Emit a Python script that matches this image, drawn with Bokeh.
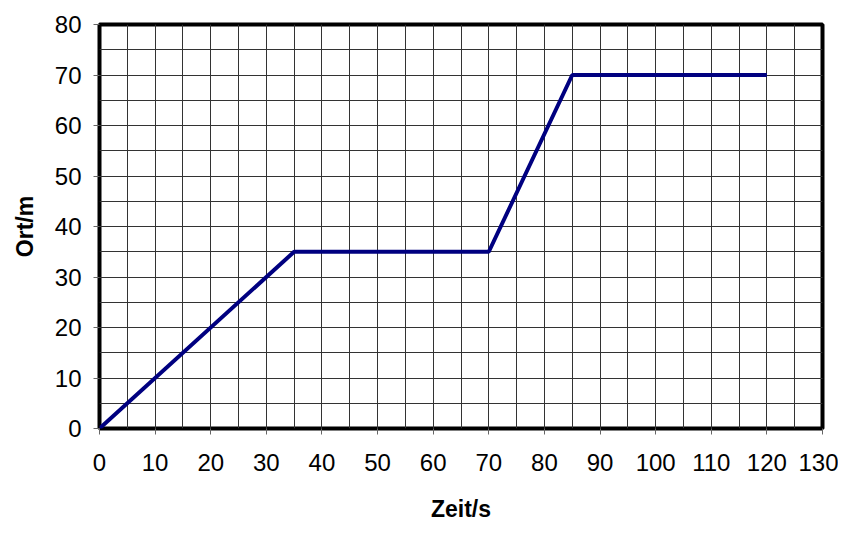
from bokeh.plotting import figure
from bokeh.models import Range1d, FixedTicker
from bokeh.embed import file_html
from bokeh.resources import INLINE

# Data
zeit = [0, 35, 70, 85, 120]
ort = [0, 35, 35, 70, 70]
x_ticks = list(range(0, 131, 10))
x_minor = list(range(0, 131, 5))
y_ticks = list(range(0, 81, 10))
y_minor = list(range(0, 81, 5))

p = figure(width=838, height=525, output_backend="svg", toolbar_location=None,
           x_range=Range1d(0, 130), y_range=Range1d(0, 80),
           min_border_left=99, min_border_right=16, min_border_top=24, min_border_bottom=97)

p.xaxis.ticker = FixedTicker(ticks=x_ticks, minor_ticks=x_minor)
p.yaxis.ticker = FixedTicker(ticks=y_ticks, minor_ticks=y_minor)

for g in (p.xgrid, p.ygrid):
    g.grid_line_color = "#333333"
    g.grid_line_width = 1
    g.minor_grid_line_color = "#333333"
    g.minor_grid_line_width = 1

p.outline_line_color = "black"
p.outline_line_width = 4
p.outline_line_alpha = 1

for ax in (p.xaxis, p.yaxis):
    ax.axis_line_color = None
    ax.major_tick_in = 0
    ax.major_tick_out = 6
    ax.major_tick_line_color = "#666666"
    ax.minor_tick_in = 0
    ax.minor_tick_out = 0
    ax.major_label_text_font = "Liberation Sans"
    ax.major_label_text_font_size = "24px"
    ax.major_label_text_color = "black"
    ax.axis_label_text_font = "Liberation Sans"
    ax.axis_label_text_font_size = "23px"
    ax.axis_label_text_font_style = "bold"
    ax.axis_label_text_color = "black"

p.xaxis.axis_label = "Zeit/s"
p.yaxis.axis_label = "Ort/m"
p.xaxis.major_label_standoff = 19
p.xaxis.axis_label_standoff = 22
p.yaxis.major_label_standoff = 12
p.yaxis.axis_label_standoff = 14

p.line(zeit, ort, line_color="#000080", line_width=4)

open("out.html", "w").write(file_html(p, INLINE))
